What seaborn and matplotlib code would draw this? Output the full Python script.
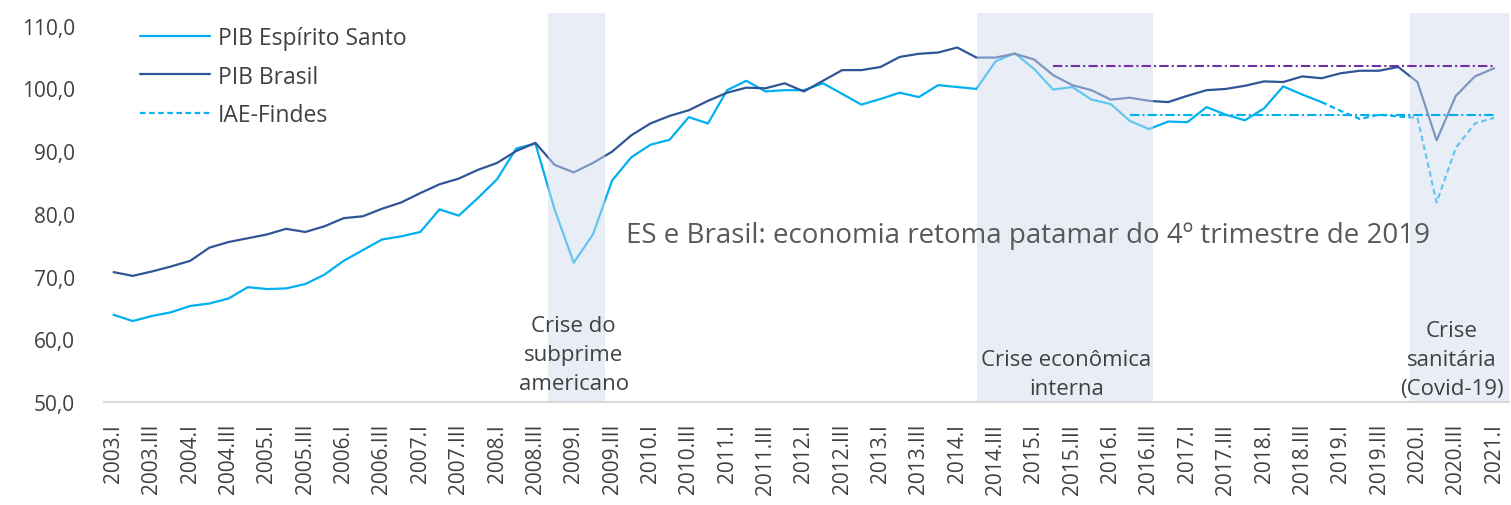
"""
PIB trimestral do Espirito Santo e do Brasil com o IAE-Findes,
2003.I a 2021.I, com as faixas das crises.
"""

import numpy as np
import seaborn as sns
import matplotlib.pyplot as plt


QUARTERS = [f'{year}.{q}' for year in range(2003, 2022)
            for q in ['I', 'II', 'III', 'IV']][:73]

PIB_BRASIL = [70.7, 70.1, 70.8, 71.6, 72.5, 74.6, 75.5, 76.1, 76.7, 77.6,
              77.1, 78.0, 79.3, 79.6, 80.8, 81.8, 83.3, 84.7, 85.6, 87.0,
              88.1, 90.0, 91.3, 87.8, 86.6, 88.1, 89.9, 92.5, 94.4, 95.6,
              96.5, 98.0, 99.3, 100.1, 100.0, 100.8, 99.5, 101.2, 102.9,
              102.9, 103.4, 105.0, 105.5, 105.7, 106.5, 104.9, 104.9, 105.5,
              104.6, 102.1, 100.5, 99.7, 98.2, 98.5, 98.0, 97.8, 98.8, 99.7,
              99.9, 100.4, 101.1, 101.0, 101.9, 101.6, 102.4, 102.8, 102.8,
              103.4, 101.0, 91.7, 98.8, 101.9, 103.2]

PIB_ES = [63.9, 62.9, 63.7, 64.3, 65.3, 65.7, 66.5, 68.3, 68.0, 68.1, 68.8,
          70.3, 72.5, 74.2, 75.9, 76.4, 77.1, 80.7, 79.7, 82.5, 85.5, 90.4,
          91.2, 80.7, 72.2, 76.7, 85.3, 89.0, 91.0, 91.8, 95.4, 94.4, 99.7,
          101.2, 99.5, 99.7, 99.7, 100.8, 99.1, 97.4, 98.3, 99.3, 98.6,
          100.5, 100.2, 99.9, 104.3, 105.6, 103.1, 99.8, 100.2, 98.2, 97.5,
          94.8, 93.5, 94.7, 94.6, 97.0, 95.8, 94.9, 96.8, 100.3, 99.0, 97.8]

IAE_START = '2018.IV'
IAE_FINDES = [97.8, 96.4, 95.1, 95.8, 95.5, 95.3, 81.8, 90.5, 94.4, 95.3]

# patamar do 4o trimestre de 2019
REF_BRASIL = 103.5
REF_BRASIL_START = '2015.II'
REF_ES = 95.8
REF_ES_START = '2016.II'

CRISE_LABELS = ['Crise do\nsubprime\namericano',
                'Crise econômica\ninterna',
                'Crise\nsanitária\n(Covid-19)']

TEXT = 'ES e Brasil: economia retoma patamar do 4º trimestre de 2019'

AZUL_ES = '#00B0F0'
AZUL_BR = '#2F5597'
ROXO = '#7030A0'
CINZA = '#404040'


def plot_series(ax):
    """
    Draws the two GDP lines, the IAE-Findes line and the reference levels.
    """
    x_br = np.arange(len(PIB_BRASIL))
    x_es = np.arange(len(PIB_ES))
    x_iae = QUARTERS.index(IAE_START) + np.arange(len(IAE_FINDES))
    sns.lineplot(x=x_es, y=PIB_ES, color=AZUL_ES, linewidth=1.6,
                 label='PIB Espírito Santo', ax=ax, zorder=2)
    sns.lineplot(x=x_br, y=PIB_BRASIL, color=AZUL_BR, linewidth=1.6,
                 label='PIB Brasil', ax=ax, zorder=2)
    sns.lineplot(x=x_iae, y=IAE_FINDES, color=AZUL_ES, linewidth=1.6,
                 linestyle=(0, (2.5, 1.6)), label='IAE-Findes', ax=ax,
                 zorder=2)
    last = len(QUARTERS) - 1
    ax.hlines(REF_BRASIL, QUARTERS.index(REF_BRASIL_START), last,
              color=ROXO, linewidth=1.5, linestyles=[(0, (4.5, 1.5, 1, 1.5))],
              zorder=4)
    ax.hlines(REF_ES, QUARTERS.index(REF_ES_START), last,
              color=AZUL_ES, linewidth=1.5,
              linestyles=[(0, (4.5, 1.5, 1, 1.5))], zorder=4)


def plot_crises(ax):
    """
    Shades the three crisis periods and writes their names.
    """
    spans = [(22.65, 25.65), (45.05, 54.2), (67.6, 72.8)]
    text_pos = [(24.0, 57.6), (49.7, 54.5), (69.8, 56.8)]
    for (x0, x1), (tx, ty), label in zip(spans, text_pos, CRISE_LABELS):
        ax.axvspan(x0, x1, color='#D3DDEE', alpha=0.48, lw=0, zorder=3)
        ax.text(tx, ty, label, ha='center', va='center', fontsize=16,
                color=CINZA, linespacing=1.5, zorder=5)


def main():
    sns.set_theme(style='white')
    plt.rcParams['font.family'] = ['Open Sans', 'DejaVu Sans']

    fig = plt.figure(figsize=(15.11, 5.06), dpi=100)
    ax = fig.add_axes([0.0688, 0.2036, 0.9302, 0.7687])

    plot_series(ax)
    plot_crises(ax)
    ax.text(26.75, 76.6, TEXT, ha='left', va='center', fontsize=20,
            color='#595959', zorder=5)

    ax.set_xlim(-0.5, 72.8)
    ax.set_ylim(50, 112)
    ax.set_yticks(range(50, 111, 10))
    ax.set_yticklabels([f'{v:.1f}'.replace('.', ',')
                        for v in range(50, 111, 10)])
    ax.set_xticks(range(0, len(QUARTERS), 2))
    ax.set_xticklabels(QUARTERS[::2], rotation=90)
    ax.tick_params(axis='y', length=0, pad=21, labelsize=15, colors=CINZA)
    ax.tick_params(axis='x', length=0, pad=15, labelsize=15, colors=CINZA)
    ax.set_xlabel('')
    ax.set_ylabel('')

    for side in ['top', 'right', 'left']:
        ax.spines[side].set_visible(False)
    ax.spines['bottom'].set_color('#D9D9D9')
    ax.spines['bottom'].set_linewidth(1.5)

    ax.legend(loc='upper left', bbox_to_anchor=(0.0256, 0.967),
              frameon=False, fontsize=16.5, handlelength=3.05,
              handletextpad=0.35, labelspacing=0.64, borderaxespad=0,
              borderpad=0, labelcolor=CINZA)

    fig.savefig('out.png', dpi=100)


if __name__ == '__main__':
    main()
